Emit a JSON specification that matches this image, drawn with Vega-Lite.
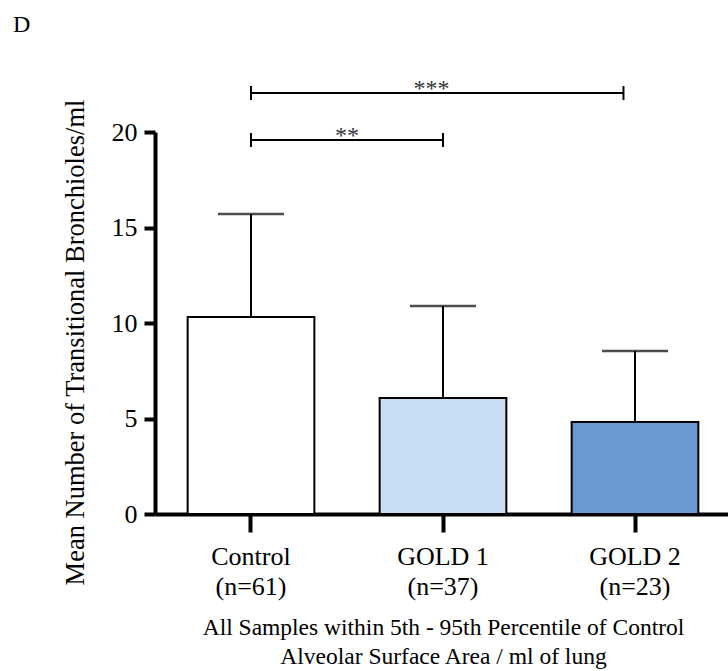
{
  "$schema": "https://vega.github.io/schema/vega-lite/v6.json",
  "width": 576,
  "height": 382,
  "autosize": "none",
  "padding": {"left": 155, "top": 132, "right": 0, "bottom": 157},
  "background": "white",
  "title": {"text": "D", "anchor": "start", "frame": "group", "dx": -142, "offset": 40, "fontSize": 24, "fontWeight": "normal", "font": "Liberation Serif", "color": "black"},
  "config": {"view": {"stroke": null}, "font": "Liberation Serif"},
  "datasets": {
    "bars": [
      {"group": "Control\n(n=61)", "mean": 10.31, "upper": 15.71},
      {"group": "GOLD 1\n(n=37)", "mean": 6.07, "upper": 10.89},
      {"group": "GOLD 2\n(n=23)", "mean": 4.82, "upper": 8.53}
    ],
    "brackets": [
      {"x1": 0, "x2": 1, "mid": 0.5, "level": 19.58, "sig": "**"},
      {"x1": 0, "x2": 1.94, "mid": 0.94, "level": 22.04, "sig": "***"}
    ]
  },
  "layer": [
    {
      "data": {"name": "bars"},
      "layer": [
        {
          "mark": {"type": "bar", "stroke": "black", "strokeWidth": 2},
          "encoding": {
            "x": {
              "field": "group", "type": "nominal", "sort": null,
              "scale": {"paddingInner": 0.34, "paddingOuter": 0.17},
              "axis": {
                "labelExpr": "split(datum.label, '\\n')",
                "labelAngle": 0,
                "labelFontSize": 26,
                "labelLineHeight": 30,
                "labelPadding": 11,
                "labelColor": "black",
                "labelFont": "Liberation Serif",
                "domainColor": "black",
                "domainWidth": 4,
                "tickColor": "black",
                "tickWidth": 4,
                "tickSize": 18,
                "title": ["All Samples within 5th - 95th Percentile of Control", "        Alveolar Surface Area / ml of lung"],
                "titleFontSize": 23.5,
                "titleFontWeight": "normal",
                "titleColor": "black",
                "titleFont": "Liberation Serif",
                "titleLineHeight": 29,
                "titlePadding": 16
              }
            },
            "y": {
              "field": "mean", "type": "quantitative",
              "scale": {"domain": [0, 20]},
              "axis": {
                "values": [0, 5, 10, 15, 20],
                "grid": false,
                "labelFontSize": 26,
                "labelPadding": 7,
                "labelColor": "black",
                "labelFont": "Liberation Serif",
                "domainColor": "black",
                "domainWidth": 4,
                "tickColor": "black",
                "tickWidth": 4,
                "tickSize": 11,
                "title": "Mean Number of Transitional Bronchioles/ml",
                "titleFontSize": 26.5,
                "titleFontWeight": "normal",
                "titleColor": "black",
                "titleFont": "Liberation Serif",
                "titlePadding": 22,
                "titleY": 210
              }
            },
            "color": {
              "field": "group", "type": "nominal",
              "scale": {"domain": ["Control\n(n=61)", "GOLD 1\n(n=37)", "GOLD 2\n(n=23)"], "range": ["#ffffff", "#c9ddf2", "#6a98d0"]},
              "legend": null
            }
          }
        },
        {
          "mark": {"type": "rule", "color": "black", "strokeWidth": 2},
          "encoding": {
            "x": {"field": "group", "type": "nominal", "sort": null},
            "y": {"field": "mean", "type": "quantitative"},
            "y2": {"field": "upper"}
          }
        },
        {
          "mark": {"type": "tick", "color": "black", "size": 66, "thickness": 2.5},
          "encoding": {
            "x": {"field": "group", "type": "nominal", "sort": null},
            "y": {"field": "upper", "type": "quantitative"}
          }
        }
      ]
    },
    {
      "data": {"name": "brackets"},
      "encoding": {
        "y": {"field": "level", "type": "quantitative"}
      },
      "layer": [
        {
          "mark": {"type": "rule", "color": "black", "strokeWidth": 2},
          "encoding": {
            "x": {"field": "x1", "type": "quantitative", "scale": {"domain": [-0.5, 2.5], "nice": false, "zero": false}, "axis": null},
            "x2": {"field": "x2"}
          }
        },
        {
          "mark": {"type": "point", "shape": "M0,-1L0,1", "size": 196, "filled": false, "color": "black", "strokeWidth": 2, "opacity": 1},
          "encoding": {
            "x": {"field": "x1", "type": "quantitative", "scale": {"domain": [-0.5, 2.5], "nice": false, "zero": false}, "axis": null}
          }
        },
        {
          "mark": {"type": "point", "shape": "M0,-1L0,1", "size": 196, "filled": false, "color": "black", "strokeWidth": 2, "opacity": 1},
          "encoding": {
            "x": {"field": "x2", "type": "quantitative", "scale": {"domain": [-0.5, 2.5], "nice": false, "zero": false}, "axis": null}
          }
        },
        {
          "mark": {"type": "text", "fontSize": 24, "baseline": "alphabetic", "dy": 3, "color": "#333333", "font": "Liberation Serif"},
          "encoding": {
            "x": {"field": "mid", "type": "quantitative", "scale": {"domain": [-0.5, 2.5], "nice": false, "zero": false}, "axis": null},
            "text": {"field": "sig"}
          }
        }
      ]
    }
  ],
  "resolve": {"scale": {"x": "independent", "color": "independent"}}
}
